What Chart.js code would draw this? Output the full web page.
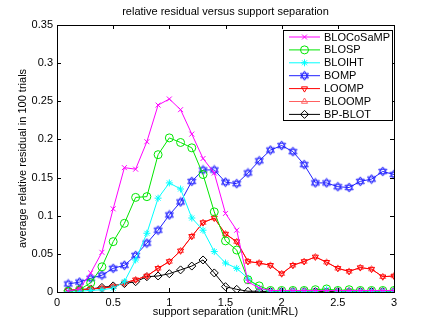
<!DOCTYPE html>
<html>
<head>
<meta charset="utf-8">
<script src="https://cdn.jsdelivr.net/npm/chart.js@4/dist/chart.umd.min.js"></script>
<style>
  html, body { margin: 0; padding: 0; background: #fff; }
  canvas { display: block; }
</style>
</head>
<body>
<canvas id="chart" width="436" height="328"></canvas>
<script>
const separation = [0.1, 0.2, 0.3, 0.4, 0.5, 0.6, 0.7, 0.8, 0.9, 1.0,
                    1.1, 1.2, 1.3, 1.4, 1.5, 1.6, 1.7, 1.8, 1.9, 2.0,
                    2.1, 2.2, 2.3, 2.4, 2.5, 2.6, 2.7, 2.8, 2.9, 3.0];

const bloCoSaMP = [0.001, 0.004, 0.025, 0.052, 0.109, 0.163, 0.161, 0.197, 0.245, 0.253,
                   0.239, 0.207, 0.175, 0.156, 0.103, 0.081, 0.0135, 0.005, 0.002, 0.002,
                   0.002, 0.002, 0.002, 0.002, 0.002, 0.002, 0.002, 0.002, 0.002, 0.002];
const bloSP = [0.001, 0.003, 0.012, 0.033, 0.066, 0.090, 0.124, 0.125, 0.180, 0.202,
               0.196, 0.189, 0.154, 0.105, 0.067, 0.055, 0.016, 0.008, 0.002, 0.002,
               0.002, 0.002, 0.003, 0.004, 0.002, 0.003, 0.002, 0.002, 0.002, 0.002];
const bloIHT = [0.001, 0.001, 0.002, 0.003, 0.005, 0.0135, 0.042, 0.077, 0.123, 0.143,
                0.135, 0.097, 0.081, 0.053, 0.038, 0.031, 0.018, 0.005, 0.001, 0.001,
                0.001, 0.001, 0.001, 0.003, 0.001, 0.001, 0.001, 0.001, 0.001, 0.001];
const bomp = [0.0105, 0.013, 0.018, 0.022, 0.031, 0.035, 0.048, 0.064, 0.081, 0.101,
              0.118, 0.145, 0.160, 0.160, 0.144, 0.142, 0.156, 0.172, 0.186, 0.192,
              0.184, 0.167, 0.143, 0.143, 0.138, 0.137, 0.145, 0.148, 0.158, 0.154];
const loomp = [0.0026, 0.003, 0.004, 0.005, 0.007, 0.012, 0.016, 0.021, 0.031, 0.040,
               0.054, 0.073, 0.091, 0.097, 0.076, 0.066, 0.040, 0.038, 0.035, 0.024,
               0.035, 0.040, 0.046, 0.039, 0.031, 0.027, 0.032, 0.030, 0.020, 0.021];
const bloomp = [0.0026, 0.003, 0.004, 0.005, 0.007, 0.012, 0.016, 0.021, 0.031, 0.040,
                0.054, 0.073, 0.091, 0.097, 0.076, 0.066, 0.040, 0.038, 0.035, 0.024,
                0.035, 0.040, 0.046, 0.039, 0.031, 0.027, 0.032, 0.030, 0.020, 0.021];
const bpBlot = [0.002, 0.003, 0.004, 0.006, 0.008, 0.011, 0.0135, 0.020, 0.021, 0.024,
                0.029, 0.034, 0.042, 0.025, 0.007, 0.0035, 0.001, 0.001, 0.0005, 0.0005,
                0.0005, 0.0005, 0.0005, 0.0005, 0.0005, 0.0005, 0.0005, 0.0005, 0.0005, 0.0005];

const xTicks = [0, 0.5, 1, 1.5, 2, 2.5, 3];
const yTicks = [0, 0.05, 0.1, 0.15, 0.2, 0.25, 0.3, 0.35];

const FONT = "'Liberation Sans', Arial, sans-serif";

// hexagram marker (MATLAB 'h'), drawn once on a small canvas
function hexagram(color) {
    const c = document.createElement('canvas');
    c.width = 11; c.height = 11;
    const g = c.getContext('2d');
    g.strokeStyle = color;
    g.lineWidth = 1;
    const r = 4.6, cx = 5.5, cy = 5.5;
    [-90, 90].forEach(start => {
        g.beginPath();
        for (let i = 0; i < 3; i++) {
            const a = (start + i * 120) * Math.PI / 180;
            const px = cx + r * Math.cos(a), py = cy + r * Math.sin(a);
            if (i === 0) g.moveTo(px, py); else g.lineTo(px, py);
        }
        g.closePath();
        g.stroke();
    });
    return c;
}

function series(label, values, color, style, extra) {
    return Object.assign({
        label: label,
        data: separation.map((x, i) => ({ x: x, y: values[i] })),
        borderColor: color,
        backgroundColor: 'rgba(0,0,0,0)',
        borderWidth: 1,
        pointStyle: style,
        pointRadius: 3.5,
        pointBorderColor: color,
        pointBackgroundColor: 'rgba(0,0,0,0)',
        pointBorderWidth: 1,
        tension: 0
    }, extra || {});
}

const datasets = [
    series('BLOCoSaMP', bloCoSaMP, '#ff00ff', 'crossRot'),
    series('BLOSP', bloSP, '#00e600', 'circle', { pointRadius: 4 }),
    series('BLOIHT', bloIHT, '#00ffff', 'star'),
    series('BOMP', bomp, '#2020ff', hexagram('#2020ff')),
    series('LOOMP', loomp, '#ff0000', 'triangle', { pointRotation: 180 }),
    series('BLOOMP', bloomp, '#ff6060', 'triangle'),
    series('BP-BLOT', bpBlot, '#000000', 'rectRot', { pointRadius: 4 })
];

const fmt = v => String(parseFloat(v.toFixed(2)));

// axes box with inward ticks, titles and the boxed legend
const matlabLook = {
    id: 'matlabLook',
    afterDatasetsDraw(chart) {
        const { ctx, chartArea: a, scales } = chart;
        ctx.save();
        ctx.strokeStyle = '#000';
        ctx.lineWidth = 1;
        ctx.strokeRect(Math.round(a.left) + 0.5, Math.round(a.top) + 0.5,
                       Math.round(a.right - a.left), Math.round(a.bottom - a.top));
        ctx.beginPath();
        xTicks.forEach(t => {
            const px = Math.round(scales.x.getPixelForValue(t)) + 0.5;
            ctx.moveTo(px, a.bottom); ctx.lineTo(px, a.bottom - 4);
            ctx.moveTo(px, a.top); ctx.lineTo(px, a.top + 4);
        });
        yTicks.forEach(t => {
            const py = Math.round(scales.y.getPixelForValue(t)) + 0.5;
            ctx.moveTo(a.left, py); ctx.lineTo(a.left + 4, py);
            ctx.moveTo(a.right, py); ctx.lineTo(a.right - 4, py);
        });
        ctx.stroke();
        ctx.restore();
    },
    afterDraw(chart) {
        const { ctx, chartArea: a } = chart;
        ctx.save();
        ctx.fillStyle = '#000';
        ctx.font = '11px ' + FONT;
        ctx.textAlign = 'center';
        ctx.textBaseline = 'middle';
        const cx = (a.left + a.right) / 2;
        ctx.fillText('relative residual versus support separation', cx, 12);
        ctx.fillText('support separation (unit:MRL)', cx, 312);
        ctx.translate(23, (a.top + a.bottom) / 2);
        ctx.rotate(-Math.PI / 2);
        ctx.fillText('average relative residual in 100 trials', 0, 0);
        ctx.restore();

        // legend
        const bx = 283.5, by = 30.5, bw = 109, bh = 90;
        ctx.save();
        ctx.fillStyle = '#fff';
        ctx.fillRect(bx, by, bw, bh);
        ctx.strokeStyle = '#000';
        ctx.lineWidth = 1;
        ctx.strokeRect(bx, by, bw, bh);
        ctx.font = '11px ' + FONT;
        ctx.textBaseline = 'middle';
        ctx.textAlign = 'left';
        chart.data.datasets.forEach((ds, i) => {
            const y = 37 + i * 12.9;
            ctx.strokeStyle = ds.borderColor;
            ctx.beginPath();
            ctx.moveTo(289, y); ctx.lineTo(320, y);
            ctx.stroke();
            ctx.fillStyle = 'rgba(0,0,0,0)';
            Chart.helpers.drawPoint(ctx, {
                pointStyle: ds.pointStyle,
                rotation: ds.pointRotation || 0,
                radius: ds.pointRadius,
                borderWidth: 1
            }, 304.5, y);
            ctx.fillStyle = '#000';
            ctx.fillText(ds.label, 324, y + 0.5);
        });
        ctx.restore();
    }
};

new Chart(document.getElementById('chart').getContext('2d'), {
    type: 'line',
    data: { datasets: datasets },
    options: {
        responsive: false,
        animation: false,
        devicePixelRatio: 1,
        layout: { padding: { top: 25, right: 42, left: 0, bottom: 0 } },
        plugins: {
            legend: { display: false },
            title: { display: false },
            tooltip: { enabled: false }
        },
        scales: {
            x: {
                type: 'linear',
                min: 0,
                max: 3,
                afterBuildTicks: s => { s.ticks = xTicks.map(v => ({ value: v })); },
                afterFit: s => { s.height = 36; },
                grid: { display: false, drawTicks: false },
                border: { display: false },
                ticks: {
                    color: '#000',
                    font: { family: FONT, size: 11 },
                    padding: 4,
                    maxRotation: 0,
                    callback: v => fmt(v)
                }
            },
            y: {
                type: 'linear',
                min: 0,
                max: 0.35,
                afterBuildTicks: s => { s.ticks = yTicks.map(v => ({ value: v })); },
                afterFit: s => { s.width = 57; },
                grid: { display: false, drawTicks: false },
                border: { display: false },
                ticks: {
                    color: '#000',
                    font: { family: FONT, size: 11 },
                    padding: 4,
                    callback: v => fmt(v)
                }
            }
        }
    },
    plugins: [matlabLook]
});
</script>
</body>
</html>
